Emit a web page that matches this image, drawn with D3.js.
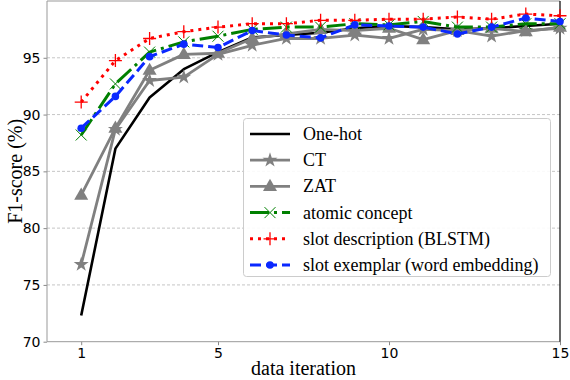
<html>
<head>
<script src="https://d3js.org/d3.v7.min.js"></script>
<style>
  body { margin: 0; background: #fff; }
</style>
</head>
<body>
<script>
// data
var iterations = [1, 2, 3, 4, 5, 6, 7, 8, 9, 10, 11, 12, 13, 14, 15];
var oneHot    = [72.3, 87.0, 91.5, 94.0, 95.5, 96.8, 97.0, 97.2, 97.6, 97.8, 97.7, 97.5, 97.6, 97.8, 98.0];
var ct        = [76.8, 88.7, 93.0, 93.3, 95.3, 96.1, 96.7, 96.7, 97.0, 96.7, 97.5, 97.4, 96.9, 97.4, 97.6];
var zat       = [82.9, 88.8, 93.9, 95.3, 95.4, 96.7, 97.1, 97.5, 97.4, 97.6, 96.6, 97.4, 97.6, 97.3, 97.7];
var atomic    = [88.2, 92.7, 95.5, 96.4, 96.9, 97.5, 97.7, 97.7, 98.0, 97.9, 98.2, 97.7, 97.7, 98.0, 98.0];
var slotDesc  = [91.1, 94.75, 96.7, 97.3, 97.7, 98.0, 98.0, 98.3, 98.3, 98.4, 98.4, 98.6, 98.4, 98.85, 98.7];
var slotExem  = [88.8, 91.6, 95.1, 96.2, 95.9, 97.4, 97.0, 96.75, 97.9, 97.8, 97.7, 97.1, 97.7, 98.5, 98.2];

var xTicks = [1, 5, 10, 15];
var yTicks = [70, 75, 80, 85, 90, 95];
var names = ["One-hot", "CT", "ZAT", "atomic concept", "slot description (BLSTM)", "slot exemplar (word embedding)"];

var series = [
  {name: names[0], values: oneHot,   color: "#000000", width: 2.6, dash: null,            marker: null},
  {name: names[1], values: ct,       color: "#808080", width: 2.8, dash: null,            marker: "star"},
  {name: names[2], values: zat,      color: "#808080", width: 2.8, dash: null,            marker: "triangle"},
  {name: names[3], values: atomic,   color: "#008000", width: 3,   dash: "19,5,3,5",      marker: "x"},
  {name: names[4], values: slotDesc, color: "#ff0000", width: 3,   dash: "3,5",           marker: "plus"},
  {name: names[5], values: slotExem, color: "#0a28ff", width: 3,   dash: "11,5",          marker: "circle"}
];

var W = 570, H = 380;
var svg = d3.select("body").append("svg")
    .attr("width", W)
    .attr("height", H);

var x = d3.scaleLinear().domain([0, 15]).range([47, 560]);
var y = d3.scaleLinear().domain([70, 100]).range([341.7, 1]);

// grid
svg.selectAll("line.grid").data(yTicks.slice(1)).enter()
    .append("line")
    .attr("x1", x(0)).attr("x2", x(15))
    .attr("y1", d => y(d)).attr("y2", d => y(d))
    .style("stroke", "#b8b8b8")
    .style("stroke-width", 0.8)
    .style("stroke-dasharray", "3,2");

// axes
var xAxis = svg.append("g")
    .attr("transform", "translate(0," + y(70) + ")")
    .call(d3.axisBottom(x).tickValues(xTicks).tickSize(3.5).tickPadding(3));
var yAxis = svg.append("g")
    .attr("transform", "translate(" + x(0) + ",0)")
    .call(d3.axisLeft(y).tickValues(yTicks).tickSize(3.5).tickPadding(3));
[xAxis, yAxis].forEach(function(g) {
  g.select(".domain").remove();
  g.selectAll("line").style("stroke", "#888");
  g.selectAll("text")
    .style("font-family", "DejaVu Sans")
    .style("font-size", "14px")
    .style("fill", "#000");
});

// frame
svg.append("line").attr("x1", x(0)).attr("x2", x(15)).attr("y1", y(70)).attr("y2", y(70))
    .style("stroke", "#999").style("stroke-width", 1);
svg.append("line").attr("x1", x(0)).attr("x2", x(0)).attr("y1", y(70)).attr("y2", y(100))
    .style("stroke", "#999").style("stroke-width", 1);
svg.append("line").attr("x1", x(0)).attr("x2", x(15)).attr("y1", y(100)).attr("y2", y(100))
    .style("stroke", "#999").style("stroke-width", 1);
svg.append("line").attr("x1", x(15)).attr("x2", x(15)).attr("y1", y(70)).attr("y2", y(100))
    .style("stroke", "#000").style("stroke-width", 1.2);

// marker drawing
function drawMarker(g, type, color, cx, cy) {
  if (type == "star") {
    g.append("path").attr("d", d3.symbol().type(d3.symbolStar).size(70))
      .attr("transform", "translate(" + cx + "," + cy + ")")
      .style("fill", color);
  } else if (type == "triangle") {
    g.append("path").attr("d", d3.symbol().type(d3.symbolTriangle).size(85))
      .attr("transform", "translate(" + cx + "," + (cy + 0.5) + ")")
      .style("fill", color);
  } else if (type == "circle") {
    g.append("circle").attr("cx", cx).attr("cy", cy).attr("r", 3.8)
      .style("fill", color);
  } else if (type == "plus") {
    var s = 6.5;
    g.append("path")
      .attr("d", "M" + (cx - s) + "," + cy + "H" + (cx + s) + "M" + cx + "," + (cy - s) + "V" + (cy + s))
      .style("stroke", color).style("stroke-width", 1.3).style("fill", "none");
  } else if (type == "x") {
    var s = 5.5;
    g.append("path")
      .attr("d", "M" + (cx - s) + "," + (cy - s) + "L" + (cx + s) + "," + (cy + s) +
                 "M" + (cx - s) + "," + (cy + s) + "L" + (cx + s) + "," + (cy - s))
      .style("stroke", color).style("stroke-width", 1).style("fill", "none");
  }
}

var line = d3.line()
    .x(d => x(d[0]))
    .y(d => y(d[1]));

var plot = svg.append("g");
series.forEach(function(s) {
  var pts = iterations.map((it, i) => [it, s.values[i]]);
  var g = plot.append("g");
  g.append("path")
    .datum(pts)
    .attr("d", line)
    .style("fill", "none")
    .style("stroke", s.color)
    .style("stroke-width", s.width)
    .style("stroke-linejoin", "round")
    .style("stroke-dasharray", s.dash);
  if (s.marker) {
    pts.forEach(p => drawMarker(g, s.marker, s.color, x(p[0]), y(p[1])));
  }
});

// axis titles
svg.append("text")
    .attr("x", (x(0) + x(15)) / 2)
    .attr("y", 375)
    .attr("text-anchor", "middle")
    .style("font-family", "Liberation Serif")
    .style("font-size", "20px")
    .text("data iteration");
svg.append("text")
    .attr("transform", "translate(22," + ((y(70) + y(100)) / 2) + ") rotate(-90)")
    .attr("text-anchor", "middle")
    .style("font-family", "Liberation Serif")
    .style("font-size", "20px")
    .text("F1-score (%)");

// legend
var lg = svg.append("g");
lg.append("rect")
    .attr("x", 243.5).attr("y", 118.5)
    .attr("width", 307).attr("height", 158)
    .attr("rx", 3)
    .style("fill", "#fff")
    .style("fill-opacity", 0.9)
    .style("stroke", "#ccc")
    .style("stroke-width", 1);
series.forEach(function(s, i) {
  var ly = 134 + i * 26.2;
  var row = lg.append("g");
  row.append("line")
    .attr("x1", 250).attr("x2", 290)
    .attr("y1", ly).attr("y2", ly)
    .style("stroke", s.color)
    .style("stroke-width", s.width)
    .style("stroke-dasharray", s.dash);
  if (s.marker) drawMarker(row, s.marker, s.color, 270, ly);
  row.append("text")
    .attr("x", 303).attr("y", ly + 6)
    .style("font-family", "Liberation Serif")
    .style("font-size", "18px")
    .text(s.name);
});
</script>
</body>
</html>
